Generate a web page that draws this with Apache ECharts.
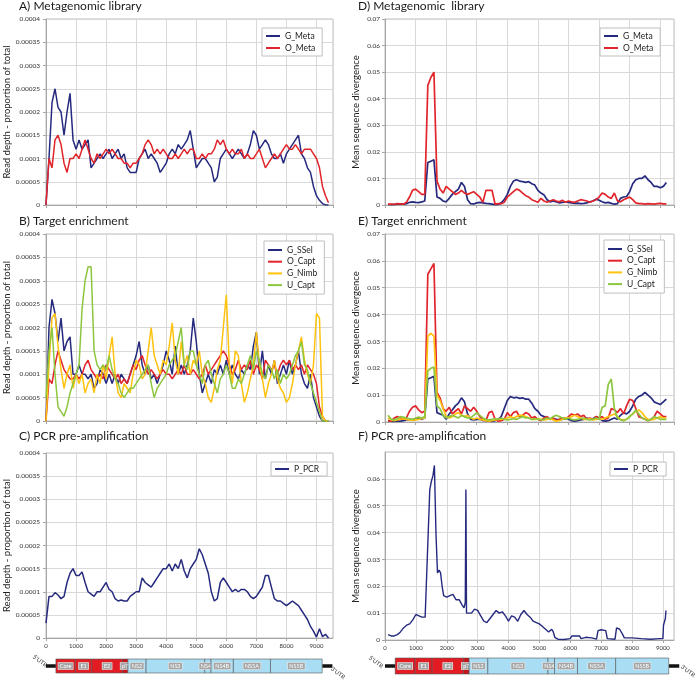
<!DOCTYPE html>
<html><head><meta charset="utf-8">
<script src="https://cdn.jsdelivr.net/npm/echarts/dist/echarts.min.js"></script>
<style>html,body{margin:0;padding:0;background:#fff}#c{width:696px;height:680px}</style>
</head><body><div id="c"></div>
<script>
// ---------- tick labels ----------
const depthTickLabels = ['0','0.00005','0.0001','0.00015','0.0002','0.00025','0.0003','0.00035','0.0004']; // axis units: 1e-5
const divTickLabels = ['0','0.01','0.02','0.03','0.04','0.05','0.06','0.07']; // axis units: 1e-3
const xTickLabels = ['0','1000','2000','3000','4000','5000','6000','7000','8000','9000'];
// ---------- positions (genome nt) ----------
const posDepth = [0,100,200,300,400,500,600,700,800,900,1000,1100,1200,1300,1400,1500,1600,1700,1800,1900,2000,2100,2200,2300,2400,2500,2600,2700,2800,2900,3000,3100,3200,3300,3400,3500,3600,3700,3800,3900,4000,4100,4200,4300,4400,4500,4600,4700,4800,4900,5000,5100,5200,5300,5400,5500,5600,5700,5800,5900,6000,6100,6200,6300,6400,6500,6600,6700,6800,6900,7000,7100,7200,7300,7400,7500,7600,7700,7800,7900,8000,8100,8200,8300,8400,8500,8600,8700,8800,8900,9000,9100,9200,9300,9400];
const posDiv = [100,200,300,400,500,600,700,800,900,1000,1100,1200,1300,1400,1500,1600,1700,1800,1900,2000,2100,2200,2300,2400,2500,2600,2700,2800,2900,3000,3100,3200,3300,3400,3500,3600,3700,3800,3900,4000,4100,4200,4300,4400,4500,4600,4700,4800,4900,5000,5100,5200,5300,5400,5500,5600,5700,5800,5900,6000,6100,6200,6300,6400,6500,6600,6700,6800,6900,7000,7100,7200,7300,7400,7500,7600,7700,7800,7900,8000,8100,8200,8300,8400,8500,8600,8700,8800,8900,9000,9100,9200];
const posF = [100,200,300,400,500,600,700,800,900,1000,1100,1200,1300,1350,1400,1450,1500,1550,1600,1650,1700,1750,1800,1850,1900,2000,2100,2200,2300,2400,2500,2560,2600,2620,2640,2700,2800,2900,3000,3100,3200,3300,3400,3500,3600,3700,3800,3900,4000,4100,4200,4300,4400,4500,4600,4700,4800,4900,5000,5100,5200,5300,5400,5450,5500,5600,5800,6000,6050,6300,6350,6500,6700,6850,6900,7000,7150,7200,7450,7500,7600,7700,7750,8000,8300,8600,8900,9000,9020,9080,9100];

// ---------- A) read depth, metagenomic (x1e-5) ----------
const aGMeta = [0,10,22,25,21,20,15,20,24,14, 12,14,12,13,14,8,9,10,11,10, 11,12,10,11,12,10,11,8,7,7, 7,10,11,12,10,11,10,9,7,8, 9,11,12,11,13,12,13,14,16,12, 8,9,10,10,9,8,5,6,10,11, 12,11,10,11,12,11,10,11,13,16, 15,12,13,14,13,11,10,10,11,9, 11,12,13,14,15,11,10,8,7,4, 2,1,0.3,0,0];
const aOMeta = [0,10,8,14,15,13,9,7,10,10, 11,10,12,14,12,10,9,11,10,11, 12,11,12,11,10,10,9,9,8,9, 9,10,11,13,14,13,11,12,11,12, 11,10,10,11,10,11,12,11,12,12, 10,10,11,10,11,11,12,14,13,14, 12,11,12,11,11,12,10,11,10,10, 11,12,10,8,9,10,11,10,11,12, 13,12,12,13,12,11,12,12,12,11, 10,8,4,2,0.5];
// ---------- B) read depth, target enrichment (x1e-5) ----------
const bGSSel = [0,20,26,23,17,22,15,17,18,10, 10,12,10,10,9,10,7,8,11,10, 8,10,8,10,8,10,9,8,10,12, 14,17,12,10,12,9,10,8,10,12, 15,13,10,16,10,12,10,12,15,22, 17,10,6,8,10,8,11,10,12,10, 13,10,12,10,9,11,10,12,11,16, 19,10,15,9,12,10,13,8,10,12, 10,13,10,12,15,10,8,7,10,5, 3,1,0,0,0];
const bOCapt = [0,9,8,12,15,13,11,10,9,9, 10,9,10,12,13,11,10,9,10,9, 12,11,10,9,10,8,9,8,10,12, 11,13,14,12,10,11,10,9,10,11, 10,10,9,10,11,10,12,10,10,11, 10,9,10,12,10,11,12,13,14,15, 14,12,10,11,13,11,12,11,13,10, 12,11,9,13,12,11,12,10,12,13, 12,13,11,12,11,12,10,12,11,10, 8,3,1,0,0];
const bGNimb = [0,12,22,23,16,11,7,10,12,7, 10,8,10,6,8,9,6,10,8,12, 9,14,18,10,6,5,8,7,6,10, 13,12,9,10,15,20,14,12,10,13, 12,16,21,13,10,17,12,14,10,13, 12,15,10,8,5,4,7,11,13,20, 27,12,8,15,14,8,4,6,9,12, 19,12,9,5,8,10,13,9,7,6, 4,5,8,12,15,18,13,10,8,12, 23,22,1,0,0];
const bUCapt = [5,15,20,10,3,2,1,3,6,8, 10,12,24,30,33,33,15,12,11,12, 11,14,11,9,8,6,5,6,7,7, 8,9,10,11,12,8,5,7,8,9, 10,12,13,14,17,20,12,11,15,15, 12,10,8,12,13,10,8,6,9,10, 12,10,7,7,9,8,10,12,14,11, 15,13,10,9,12,11,9,11,8,10, 9,10,12,14,15,17,12,11,8,6, 4,2,0,0,0];
// ---------- C) read depth, PCR (x1e-5) ----------
const cPPCR = [3.2,9,9,9.8,9.3,8.5,9,12,14,15, 13.5,13.5,14.3,12,10,9.5,9,10,10,11, 12,10.5,10,8.5,8,8.2,8,8,9,9.5, 10,10,13,12,11.5,11,12,13,14,15, 15,16,14.5,16,15,17,14.5,13,15,16, 17,19.3,18,16,14,10,8,8.5,12,13, 12,11,10,10.5,10,10.5,10.5,10,9,8.5, 9,10,11,13.5,13.5,11,8.5,8,8,7.5, 7,7.5,8,7.5,7,6,5,4,2.5,1.5, 0.2,2,0.3,0.8,0];

// ---------- D) divergence, metagenomic (x1e-3) ----------
const dGMeta = [0.2,0.1,0.2,0.3,0.4,0.3,0.5,1.0,1.2,1.0, 0.9,1.2,1.5,16,16.5,17,3,2.5,1.5,1.2, 2.5,4,5,6,8.5,7,2,0.5,0.4,0.8, 1,0.8,0.6,0.5,0.3,0.1,0.2,0.8,2,4, 7,9,9.5,9,8.8,8.5,8.8,8,7.5,5.5, 4.5,3.8,2,1.2,1.5,1.2,0.8,1,1.2,1, 0.8,0.6,0.7,0.5,0.6,0.8,1.2,1.5,2.2,1.8, 1.2,0.8,1,0.6,0.3,0.5,2.5,3,3.2,5, 8,9.5,10,10,11,9.5,8.5,7,7,6.5, 7,8.5];
const dOMeta = [0.3,0.3,0.2,0.5,0.4,0.3,1,3,5.5,6, 5,4,4,45,48,50,9,6,4.5,7, 6,5,4,4.5,5.5,4.5,4,4.5,5,4, 3,1,5.5,5.5,5.5,0.3,0.5,0.5,1,3, 4,5,6,5.5,4.5,3.5,3,2,1.5,1, 2.5,1.5,1,1.5,2,1.5,1.2,1.8,1,1.5, 1.2,1,1.5,2,1.8,1.5,1,1.5,2,3, 4.5,4,3,2.5,4.5,1.5,1.2,2,2.5,3, 2,0.8,0.5,0.5,0.3,0.5,0.4,0.3,0.5,0.6, 0.4,0.4];
// ---------- E) divergence, target enrichment (x1e-3) ----------
const eGSSel = [0.5,0.3,0.2,0.4,0.3,0.5,0.8,1,0.8,1, 1.2,1,1.5,16,16.5,17,3.5,3,2.5,1, 3,4.5,6,7,9,7.5,3,1,0.8,1, 1,0.6,0.5,0.3,0.2,0.5,1,2,5,8, 9.5,9,9.2,8.8,9,8.5,8.5,7,5,4, 2.5,2,1.5,1,1.2,1,0.8,1,1.5,1, 0.5,0.3,0.5,0.8,1,1.5,1,1.2,2,1.5, 0.5,0.3,0.5,1,1.5,1,2.5,3.5,3,4, 6,8.5,9.5,10,11,10,9,7.5,7,6.5, 7.5,8.5];
const eOCapt = [0.5,0.3,1.5,2,1.5,1,1.5,4,5.5,6, 4.5,3.5,4,55,57,59,11,9,5,4, 5.5,3,4,5,3,6,5,4,5.5,4, 2,1,0.5,3.5,4,1,0.3,0.5,1,3.5, 2,3.5,4,2,2.5,3.5,3,1.5,2,1, 0.5,1.5,2,1,1.5,0.5,1,1.5,1,2, 3,2.5,3,2,2.5,1,1.5,1,2,1.5, 2,1,1.5,5,4.5,3.5,5,3,6,8.5, 8,5,2,1.5,1,0.5,1,2,4,3, 2,2];
const eGNimb = [1.5,0.8,0.5,0.8,1,1.2,1,0.8,0.6,0.8, 1,1.2,1.5,32,33,32,10,8,5,2, 1.5,2,3,3.5,2.5,2,2.5,1.5,1,1.5, 1,0.8,0.5,0.3,0.5,0.8,1,1,1.2,1.5, 2,1.5,2,2.5,2.5,2,1.5,1,1,1.2, 1,0.8,1,1.2,0.8,0.3,0.5,1,1.5,1.5, 2,2.5,2,1.5,1,1,1.2,0.8,1,1.2, 1,1.5,2,2.5,3,2,1,0.8,1,2, 3,4,4.5,3.5,2,1,0.8,1,1.5,2, 1.5,1.5];
const eUCapt = [2.5,1,0.8,1.2,2,1.8,1.5,1.2,1,1.5, 1.8,1.5,2,19,20,20.5,6,5,2.5,1.5, 2,2.5,2,1.5,2.5,2,1.5,1.5,2.5,3.5, 2.5,1.5,1,0.8,1,1.2,1,1.5,1,0.8, 1,1.2,1,1.5,2,1.5,1.5,1,1.2,1, 0.8,1,1.5,1.2,2,2.5,2,1.5,1,1.5, 1,0.8,1,1.2,1.5,1,0.8,1,1.5,1, 5.5,6,14,16,5,1.5,0.8,0.5,1,2, 3,4.5,3,1.5,1,0.5,1,2,1.5,1, 1,1];
// ---------- F) divergence, PCR (x1e-3) ----------
const fPPCR = [2,1.5,1.5,2,3,4.5,5.5,6,7.5,9.5,9,8.5,8.5, 9,40,56,59,61,65,40,25,26,25,20,16.5, 16,16.5,17,15,15,13, 12,14,56,10,9.5, 10,11.5,11,9,7,6.5,8,9.5,11,10,10.5,9,7,9,8.5,7,9.5,11,9.5,8.5,7,6.5,6,5,4,3,4, 3,1,0.3,0.2,0.5,1.5,1.5,0.5,1,0.8,0.3,3.5,3.8,3.5,0.5,0.3,4.5,4,2,0.8,0.8,0.5,0.3,0.5,0.5,5.5,8,11];

// ---------- genome map ----------
const geneNames = ['Core','E1','E2','p7','NS2','NS3','NS4A','NS4B','NS5A','NS5B'];
const geneStart = [330,975,1525,2540,2725,3330,5280,5490,6235,7470];
const geneEnd   = [975,1525,2540,2725,3330,5280,5490,6235,7470,9190];
const geneGroup = ['structural','structural','structural','p7','nonstructural','nonstructural','nonstructural','nonstructural','nonstructural','nonstructural'];
const utrStart = [0,9190];
const utrEnd   = [330,9530];

const COL = {navy:'#262A7E', red:'#E1252B', yellow:'#FFC20E', green:'#8DC63F'};
const GROUPCOL = {structural:'#E31B23', p7:'#C4141C', nonstructural:'#A9DDF4'};
const FONT = 'Lato';

const zip = (xs, ys) => xs.map((x,i)=>[x, ys[i]]);

const chart = echarts.init(document.getElementById('c'), null, {renderer:'canvas'});

const grids = [
  {left:46, top:19, width:287, height:186},
  {left:46, top:234, width:287, height:187},
  {left:46, top:453, width:287, height:185},
  {left:385, top:19, width:289, height:186},
  {left:385, top:234, width:289, height:188},
  {left:385, top:452, width:289, height:188},
  {left:46, top:659, width:287, height:14},
  {left:385, top:658, width:289, height:16}
].map((g,i)=> Object.assign(g, i<6 ? {show:true, borderColor:'#BFBFBF', borderWidth:1} : {show:false}));

const xMax = [9550,9550,9550,9450,9450,9360,9550,9360];
const xAxes = xMax.map((mx,i)=>({
  type:'value', gridIndex:i, min:0, max:mx, interval:1000,
  show: i<6,
  axisLine:{show:true, lineStyle:{color:'#A6A6A6'}},
  axisTick:{show:true, length:3, lineStyle:{color:'#A6A6A6'}},
  splitLine:{show:true, lineStyle:{color:'#D9D9D9', width:1}},
  axisLabel:{show:(i===2||i===5), fontSize:6, color:'#333', margin:5, fontFamily:FONT, showMaxLabel:false,
    formatter:(v)=>xTickLabels[Math.round(v/1000)] || ''},
}));

const depthAxis = (i)=>({
  type:'value', gridIndex:i, min:0, max:40, interval:5,
  name:'Read depth - proportion of total', nameLocation:'middle', nameGap:34, nameRotate:90,
  nameTextStyle:{fontSize:9.5, color:'#222', fontFamily:FONT},
  axisLine:{show:true, lineStyle:{color:'#A6A6A6'}},
  axisTick:{show:true, length:3, lineStyle:{color:'#A6A6A6'}},
  splitLine:{show:true, lineStyle:{color:'#D9D9D9'}},
  axisLabel:{fontSize:6.5, color:'#333', margin:6, fontFamily:FONT, formatter:(v)=>depthTickLabels[Math.round(v/5)]}
});
const divAxis = (i, hideMax)=>({
  type:'value', gridIndex:i, min:0, max:70, interval:10,
  name:'Mean sequence divergence', nameLocation:'middle', nameGap:24, nameRotate:90,
  nameTextStyle:{fontSize:9.5, color:'#222', fontFamily:FONT},
  axisLine:{show:true, lineStyle:{color:'#A6A6A6'}},
  axisTick:{show:true, length:3, lineStyle:{color:'#A6A6A6'}},
  splitLine:{show:true, lineStyle:{color:'#D9D9D9'}},
  axisLabel:{fontSize:6.5, color:'#333', margin:5, fontFamily:FONT, showMaxLabel:!hideMax, formatter:(v)=>divTickLabels[Math.round(v/10)]}
});
const yAxes = [depthAxis(0), depthAxis(1), depthAxis(2), divAxis(3), divAxis(4), divAxis(5,true),
  {type:'value', gridIndex:6, min:0, max:1, show:false},
  {type:'value', gridIndex:7, min:0, max:1, show:false}];

const line = (name, color, gi, pos, vals, w) => ({
  type:'line', name, xAxisIndex:gi, yAxisIndex:gi, data:zip(pos, vals),
  symbol:'none', showSymbol:false, animation:false,
  lineStyle:{color, width:w||1.5}, itemStyle:{color}
});

const genomeData = geneNames.map((n,i)=>[geneStart[i], geneEnd[i], i]);
const utrData = utrStart.map((s,i)=>[s, utrEnd[i]]);

const geneSeries = (gi) => ({
  type:'custom', xAxisIndex:gi, yAxisIndex:gi, clip:false, animation:false, silent:true,
  data: genomeData,
  encode:{x:[0,1]},
  renderItem:(params, api)=>{
    const idx = api.value(2);
    const p0 = api.coord([api.value(0), 1]);
    const p1 = api.coord([api.value(1), 0]);
    const cx = (p0[0]+p1[0])/2, cy = (p0[1]+p1[1])/2;
    return {type:'group', children:[
      {type:'rect', shape:{x:p0[0], y:p0[1], width:p1[0]-p0[0], height:p1[1]-p0[1]},
       style:{fill:GROUPCOL[geneGroup[idx]], stroke:'#555', lineWidth:0.6}},
      {type:'text', x:cx, y:cy, style:{text:geneNames[idx], fill:'#fff', fontSize:5.5, fontFamily:FONT,
        align:'center', verticalAlign:'middle', backgroundColor:'#A6A6A6', borderColor:'#eee', borderWidth:0.6, padding:[0.5,1.5,0,1.5]}}
    ]};
  }
});
const utrSeries = (gi) => ({
  type:'custom', xAxisIndex:gi, yAxisIndex:gi, clip:false, animation:false, silent:true, z:1,
  data: utrData, encode:{x:[0,1]},
  renderItem:(params, api)=>{
    const a = api.coord([api.value(0), 0.5]);
    const b = api.coord([api.value(1), 0.5]);
    return {type:'line', shape:{x1:a[0], y1:a[1], x2:b[0], y2:b[1]}, style:{stroke:'#111', lineWidth:3.5}};
  }
});

const series = [
  line('G_Meta', COL.navy, 0, posDepth, aGMeta),
  line('O_Meta', COL.red, 0, posDepth, aOMeta),
  line('G_SSel', COL.navy, 1, posDepth, bGSSel),
  line('O_Capt', COL.red, 1, posDepth, bOCapt),
  line('G_Nimb', COL.yellow, 1, posDepth, bGNimb),
  line('U_Capt', COL.green, 1, posDepth, bUCapt),
  line('P_PCR', COL.navy, 2, posDepth, cPPCR),
  line('G_Meta', COL.navy, 3, posDiv, dGMeta, 1.7),
  line('O_Meta', COL.red, 3, posDiv, dOMeta, 1.7),
  line('G_SSel', COL.navy, 4, posDiv, eGSSel, 1.7),
  line('O_Capt', COL.red, 4, posDiv, eOCapt, 1.7),
  line('G_Nimb', COL.yellow, 4, posDiv, eGNimb, 1.7),
  line('U_Capt', COL.green, 4, posDiv, eUCapt, 1.7),
  line('P_PCR', COL.navy, 5, posF, fPPCR, 1.4),
  utrSeries(6), geneSeries(6), utrSeries(7), geneSeries(7)
];

const legendBase = {orient:'vertical', icon:'rect', itemWidth:14, itemHeight:2, itemGap:2, borderColor:'#BFBFBF', borderWidth:1,
  backgroundColor:'#fff', padding:[3,7,3,4], textStyle:{fontSize:8.5, color:'#222', fontFamily:FONT, lineHeight:10}, selectedMode:false};
const legends = [
  {left:262, top:28, data:['G_Meta','O_Meta']},
  {left:264, top:241, data:['G_SSel','O_Capt','G_Nimb','U_Capt'], itemGap:1.7, padding:[4,7,4,4]},
  {left:271, top:462, data:['P_PCR'], padding:[2,8,2,4]},
  {left:600, top:28, data:['G_Meta','O_Meta']},
  {left:604, top:240, data:['G_SSel','O_Capt','G_Nimb','U_Capt'], itemGap:1.7, padding:[4,7,4,4]},
  {left:610, top:462, data:['P_PCR'], padding:[2,8,2,4]}
].map(l=>Object.assign({}, legendBase, l));

const titleStyle = {fontSize:12, fontWeight:'normal', color:'#1a1a1a', fontFamily:FONT};
const titles = [
  {text:'A) Metagenomic library', left:19, top:0},
  {text:'B) Target enrichment', left:19, top:215},
  {text:'C) PCR pre-amplification', left:19, top:430},
  {text:'D) Metagenomic  library', left:358, top:0},
  {text:'E) Target enrichment', left:358, top:215},
  {text:'F) PCR pre-amplification', left:358, top:430}
].map(t=>Object.assign({padding:0, textStyle:titleStyle}, t));

const utrLabel = (x,y,t)=>({type:'text', x, y, rotation:-0.65, style:{text:t, fontSize:6, fill:'#333', fontFamily:FONT, align:'center', verticalAlign:'middle'}});

chart.setOption({
  animation:false,
  title:titles,
  legend:legends,
  grid:grids,
  xAxis:xAxes,
  yAxis:yAxes,
  series,
  graphic:[utrLabel(40,661,"5'UTR"), utrLabel(338,673,"3'UTR"), utrLabel(376,662,"5'UTR"), utrLabel(688,671,"3'UTR")]
});
</script></body></html>
